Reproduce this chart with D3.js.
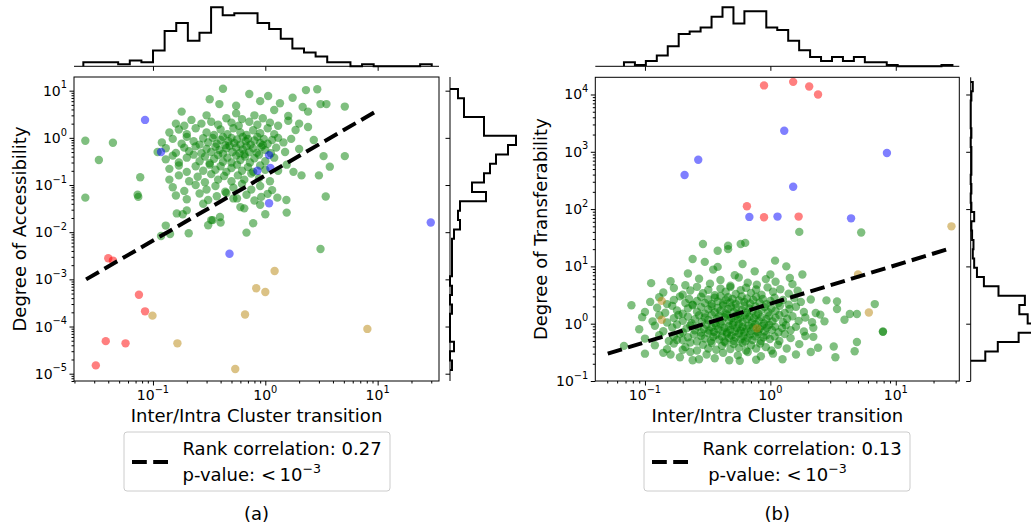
<!DOCTYPE html>
<html>
<head>
<meta charset="utf-8">
<script src="https://cdn.jsdelivr.net/npm/d3@7"></script>
<style>
  body { margin: 0; background: #fff; }
  text { font-family: "DejaVu Sans", sans-serif; fill: #000; }
</style>
</head>
<body>
<svg id="chart" width="1031" height="529"></svg>
<script>
// ---------------- panel (a): accessibility ----------------
var accGreen = [
  [0.025,0.87],[0.044,0.79],[0.033,0.34],[0.025,0.054],[0.077,0.146],[0.073,0.062],[0.074,0.056],
  [0.42,11],[0.32,6.6],[0.72,8.5],[1.06,7.7],[1.75,7.1],[2.3,10.3],[2.9,10.7],
  [0.39,5.2],[1.35,5.4],[3.1,5.2],[3.5,5.2],[2.15,4.5],[5.1,4.6],[0.55,4.8],[0.9,6.0],
  [0.18,3.6],[2.4,3.6],[0.8,3.0],[0.55,3.3],[1.2,3.9],[0.3,3.0],[1.6,2.9],
  [0.16,2.0],[0.19,1.8],[0.22,2.4],[0.27,2.0],[0.33,2.2],[0.38,1.9],[0.45,2.6],[0.5,2.1],[0.58,1.8],[0.62,2.5],
  [0.72,2.2],[0.85,1.9],[0.95,2.6],[1.1,2.1],[1.3,1.8],[1.6,2.3],[2.0,2.0],
  [0.14,1.3],[0.17,1.5],[0.2,1.2],[0.24,1.6],[0.3,1.3],[0.35,1.15],[0.4,1.5],[0.46,1.2],[0.52,1.6],[0.6,1.3],
  [0.68,1.15],[0.78,1.45],[0.9,1.25],[1.05,1.6],[1.2,1.2],[1.86,1.47],[2.4,1.7],
  [0.12,0.8],[0.15,0.95],[0.18,0.75],[0.2,1.05],[0.23,0.85],[0.26,0.72],[0.28,0.98],[0.31,0.8],[0.34,1.0],[0.37,0.75],
  [0.4,0.9],[0.42,1.05],[0.44,0.7],[0.47,0.85],[0.5,1.0],[0.53,0.78],[0.56,0.92],[0.6,0.72],[0.63,1.05],[0.67,0.85],
  [0.7,0.95],[0.74,0.72],[0.8,0.88],[0.85,1.05],[0.9,0.78],[0.97,0.95],[1.05,0.75],[1.15,0.9],[1.3,1.0],[1.45,0.8],
  [1.7,0.95],[2.7,0.9],[0.95,0.7],
  [0.11,0.5],[0.13,0.6],[0.16,0.48],[0.19,0.62],[0.21,0.52],[0.24,0.66],[0.27,0.47],[0.3,0.58],[0.33,0.5],[0.36,0.65],
  [0.39,0.55],[0.42,0.46],[0.45,0.6],[0.48,0.68],[0.51,0.5],[0.55,0.62],[0.59,0.47],[0.63,0.57],[0.68,0.66],[0.72,0.5],
  [0.78,0.6],[0.84,0.48],[0.92,0.64],[1.0,0.55],[1.12,0.47],[1.25,0.62],[1.5,0.5],[2.0,0.58],[0.65,0.45],
  [0.13,0.35],[0.15,0.42],[0.17,0.3],[0.2,0.38],[0.23,0.44],[0.26,0.32],[0.29,0.4],[0.32,0.29],[0.35,0.36],[0.38,0.43],
  [0.42,0.31],[0.46,0.38],[0.5,0.3],[0.55,0.42],[0.6,0.34],[0.66,0.4],[0.73,0.3],[0.8,0.37],[0.88,0.44],[1.0,0.32],
  [1.2,0.38],[3.3,0.41],[5.1,0.41],
  [0.14,0.22],[0.17,0.26],[0.2,0.19],[0.24,0.25],[0.28,0.2],[0.32,0.27],[0.36,0.21],[0.4,0.25],[0.45,0.19],[0.5,0.23],
  [0.56,0.27],[0.62,0.2],[0.7,0.24],[0.78,0.19],[0.9,0.26],[1.0,0.21],[1.3,0.2],[1.78,0.19],[3.75,0.245],[1.55,0.27],
  [0.14,0.13],[0.17,0.16],[0.21,0.12],[0.25,0.15],[0.29,0.115],[0.33,0.17],[0.38,0.13],[0.43,0.155],[0.5,0.12],[0.57,0.16],
  [0.65,0.13],[0.75,0.175],[0.88,0.14],[1.1,0.12],[2.1,0.16],[3.0,0.16],
  [0.15,0.09],[0.19,0.075],[0.24,0.1],[0.3,0.08],[0.36,0.095],[0.44,0.072],[0.52,0.088],[0.62,0.105],[0.75,0.08],[0.9,0.095],[1.15,0.078],
  [0.16,0.06],[0.2,0.05],[0.26,0.066],[0.31,0.048],[0.37,0.058],[0.45,0.068],[0.52,0.052],[0.56,0.052],[0.68,0.062],[0.8,0.047],
  [0.92,0.056],[1.28,0.054],[1.54,0.048],[3.45,0.057],[1.05,0.065],
  [0.6,0.034],[0.65,0.032],[0.2,0.029],[0.28,0.04],[0.9,0.038],
  [0.163,0.025],[0.184,0.024],[0.395,0.021],[1.55,0.026],[1.0,0.024],[0.33,0.018],
  [0.13,0.0138],[0.31,0.014],[0.40,0.016],[0.78,0.0155],[0.34,0.018],
  [0.118,0.0083],[0.142,0.0091],[0.208,0.0095],[0.68,0.0098],
  [3.1,0.0044]
];
var accRed = [[0.04,0.0028],[0.044,0.0025],[0.075,0.00047],[0.085,0.00021],[0.038,4.9e-5],[0.057,4.4e-5],[0.031,1.5e-5]];
var accBlue = [[0.085,2.4],[0.118,0.5],[0.48,0.0035],[1.08,0.43],[0.85,0.2],[1.11,0.23],[1.08,0.041],[29.7,0.016]];
var accTan = [[0.099,1.7e-4],[0.165,4.4e-5],[0.66,1.8e-4],[0.54,1.26e-5],[1.21,1.5e-3],[0.83,6.5e-4],[1.0,5.4e-4],[8.1,8.9e-5]];
var accFitX = [0.0254, 9.35], accFitY = [0.001, 3.48];
// marginal histograms, counts listed from low value to high value
var accTopRange = [0.024, 30.3];
var accTopCounts = [2,2,2,1,3,2,8,18,22,13,17,30,26,27,27,22,19,14,9,7,5,2,2,0,1,0,0,0,0,1];
var accSideRange = [1.2e-5, 10.9];
var accSideCounts = [1,0,2,0,0,0,1,0,1,0,1,1,1,1,2,5,4,5,18,11,17,20,23,29,33,17,17,7,7,4];
var accXTicks = [-1, 0, 1], accYTicks = [-5, -4, -3, -2, -1, 0, 1];
var accLegend = ["Rank correlation: 0.27", "p-value: "];

// ---------------- panel (b): transferability ----------------
var trfGreen = [
  [0.068,0.41],[0.078,2.1],[0.1,0.3],[0.112,5.1],[0.24,13.5],[0.29,24.6],[0.38,18.8],[0.46,23],[0.46,20],[0.58,24.6],
  [0.63,25.7],[0.38,9.8],[1.7,40],[5.3,39],[1.09,12.6],[0.24,0.23],[0.57,0.226],[0.77,0.235],[0.16,0.29],[0.18,0.52],[0.2,0.35],
  [1.34,10],[1.8,7.2],[1.43,6.3],[2.8,2.55],[3.4,2.45],[3.4,1.8],[4.3,1.48],[4.9,1.48],[3.9,1.17],[6.8,2.2],
  [7.9,0.73],[7.9,0.72],[4.9,0.48],[4.7,0.33],[3.2,0.4],[3.3,0.26],[2.2,0.59],[2.3,1.54],[2.5,1.44],[2.7,1.1],
  [0.14,0.31],[0.19,0.26],[0.23,0.32],[0.27,0.24],[0.31,0.29],[0.36,0.25],[0.42,0.31],[0.47,0.23],[0.55,0.28],[0.66,0.32],
  [0.84,0.27],[1.05,0.3],[1.25,0.24],[1.6,0.29],[2.1,0.32],
  [0.12,0.42],[0.15,0.36],[0.17,0.45],[0.21,0.39],[0.23,0.47],[0.26,0.34],[0.29,0.43],[0.32,0.37],[0.34,0.46],[0.37,0.35],
  [0.41,0.41],[0.44,0.47],[0.48,0.36],[0.51,0.44],[0.56,0.38],[0.6,0.46],[0.64,0.34],[0.7,0.42],[0.77,0.37],[0.83,0.45],
  [0.92,0.39],[1.02,0.34],[1.15,0.43],[1.35,0.37],[1.7,0.44],[2.4,0.38],
  [0.1,0.55],[0.13,0.63],[0.155,0.5],[0.17,0.6],[0.19,0.67],[0.2,0.52],[0.22,0.58],[0.245,0.65],[0.26,0.49],[0.28,0.61],
  [0.3,0.55],[0.32,0.68],[0.335,0.5],[0.35,0.59],[0.37,0.64],[0.39,0.53],[0.41,0.6],[0.43,0.49],[0.45,0.66],[0.47,0.56],
  [0.49,0.62],[0.51,0.5],[0.53,0.58],[0.56,0.68],[0.58,0.53],[0.61,0.61],[0.63,0.49],[0.66,0.57],[0.69,0.65],[0.72,0.52],
  [0.76,0.6],[0.8,0.67],[0.84,0.5],[0.88,0.58],[0.93,0.63],[0.99,0.54],[1.08,0.6],[1.18,0.5],[1.3,0.66],[1.45,0.56],[1.9,0.61],
  [0.09,0.8],[0.12,0.92],[0.14,0.74],[0.165,0.86],[0.18,0.97],[0.2,0.71],[0.215,0.83],[0.23,0.93],[0.25,0.77],[0.265,0.89],
  [0.28,0.7],[0.295,0.81],[0.31,0.96],[0.325,0.76],[0.34,0.87],[0.355,0.72],[0.37,0.92],[0.385,0.8],[0.4,0.99],[0.415,0.74],
  [0.43,0.85],[0.45,0.7],[0.465,0.9],[0.48,0.78],[0.5,0.95],[0.52,0.73],[0.54,0.84],[0.56,0.97],[0.58,0.76],[0.6,0.88],
  [0.62,0.71],[0.645,0.82],[0.67,0.93],[0.7,0.75],[0.73,0.87],[0.76,0.98],[0.79,0.72],[0.82,0.81],[0.86,0.91],[0.9,0.74],
  [0.94,0.86],[0.98,0.96],[1.03,0.78],[1.09,0.89],[1.16,0.71],[1.24,0.84],[1.33,0.94],[1.45,0.77],[1.6,0.88],[1.85,0.73],[2.2,0.85],
  [0.095,1.3],[0.115,1.1],[0.13,1.4],[0.15,1.05],[0.17,1.25],[0.185,1.42],[0.2,1.12],[0.22,1.33],[0.235,1.02],[0.25,1.2],
  [0.27,1.4],[0.285,1.08],[0.3,1.28],[0.32,1.16],[0.34,1.44],[0.36,1.03],[0.375,1.22],[0.39,1.36],[0.41,1.1],[0.43,1.3],
  [0.45,1.45],[0.47,1.14],[0.49,1.26],[0.51,1.05],[0.53,1.38],[0.55,1.18],[0.575,1.3],[0.6,1.07],[0.625,1.42],[0.65,1.2],
  [0.68,1.32],[0.71,1.04],[0.74,1.24],[0.77,1.4],[0.81,1.12],[0.85,1.3],[0.89,1.01],[0.93,1.2],[0.98,1.38],[1.04,1.1],
  [1.1,1.27],[1.18,1.42],[1.26,1.06],[1.36,1.22],[1.5,1.35],[1.68,1.12],[1.9,1.28],[2.15,1.06],
  [0.1,1.6],[0.125,1.9],[0.145,1.55],[0.165,2.05],[0.18,1.7],[0.2,1.5],[0.22,1.85],[0.24,2.1],[0.26,1.62],[0.28,1.95],
  [0.3,1.5],[0.32,1.78],[0.34,2.0],[0.36,1.58],[0.38,1.88],[0.4,1.68],[0.42,2.08],[0.44,1.52],[0.46,1.8],[0.485,1.98],
  [0.51,1.6],[0.535,1.9],[0.56,1.48],[0.59,1.74],[0.62,2.04],[0.65,1.56],[0.68,1.84],[0.72,1.66],[0.76,2.0],[0.8,1.5],
  [0.85,1.76],[0.9,1.95],[0.96,1.58],[1.02,1.86],[1.1,1.68],[1.19,2.05],[1.3,1.54],[1.42,1.8],[1.6,1.98],[1.85,1.6],
  [0.11,2.4],[0.13,2.9],[0.15,2.2],[0.17,2.6],[0.19,3.0],[0.21,2.3],[0.225,2.7],[0.24,2.15],[0.26,2.5],[0.28,2.95],
  [0.3,2.3],[0.32,2.65],[0.34,2.2],[0.36,2.85],[0.38,2.45],[0.4,3.05],[0.42,2.25],[0.44,2.6],[0.46,2.9],[0.48,2.35],
  [0.5,2.7],[0.53,2.2],[0.56,2.55],[0.59,3.0],[0.62,2.4],[0.65,2.75],[0.69,2.25],[0.73,2.6],[0.77,2.95],[0.82,2.35],
  [0.87,2.7],[0.93,2.2],[1.0,2.5],[1.08,2.85],[1.16,2.3],[1.26,2.6],[1.4,2.15],[1.55,2.8],[1.75,2.4],[2.1,2.65],
  [0.14,3.5],[0.17,4.2],[0.2,3.2],[0.23,3.8],[0.26,4.4],[0.29,3.4],[0.32,3.9],[0.36,3.15],[0.4,4.1],[0.44,3.6],
  [0.48,4.35],[0.53,3.3],[0.58,3.85],[0.64,4.25],[0.7,3.45],[0.77,3.95],[0.85,3.2],[0.95,4.3],[1.05,3.6],[1.2,4.0],[1.4,3.35],[1.65,3.75],
  [0.16,5.5],[0.21,4.7],[0.27,6.1],[0.33,5.0],[0.4,5.8],[0.48,4.6],[0.56,6.4],[0.66,5.2],[0.78,4.8],[0.92,6.0],[1.1,5.4],[1.5,4.9],
  [0.22,7.5],[0.35,8.8],[0.52,7.0],[0.75,8.2],[1.0,7.2],
  [0.3,12],[0.6,11]
];
var trfRed = [[0.89,14400],[1.52,16600],[2.04,13800],[2.4,10000],[0.65,112],[0.89,72],[1.68,74]];
var trfBlue = [[0.207,394],[0.266,725],[0.68,73],[1.29,2330],[8.5,950],[1.52,245],[1.14,74],[4.4,69]];
var trfTan = [[0.136,2.5],[0.136,1.17],[0.78,0.83],[5.0,7.2],[6.1,1.57],[27.8,50]];
var trfFitX = [0.0505, 27], trfFitY = [0.3, 20.5];
var trfTopRange = [0.068, 28.3];
var trfTopCounts = [3,1,4,8,15,24,26,29,37,44,32,41,41,29,27,19,12,7,4,7,4,7,3,3,1,0,0,0,0,1];
var trfSideRange = [0.226, 16600];
var trfSideCounts = [21,39,69,95,82,70,78,40,19,9,5,3,4,2,1,5,1,0,1,0,1,1,1,0,1,0,0,0,1,3];
var trfXTicks = [-1, 0, 1], trfYTicks = [-1, 0, 1, 2, 3, 4];
var trfLegend = ["Rank correlation: 0.13", "p-value: "];

// ---------------- layout ----------------
var panels = [
  {id: "a", left: 74, right: 439, top: 77, bottom: 381, xDom: [0.01982, 35.16], yDom: [7.0e-6, 19.5],
   green: accGreen, red: accRed, blue: accBlue, tan: accTan, fitX: accFitX, fitY: accFitY,
   topRange: accTopRange, topCounts: accTopCounts, sideRange: accSideRange, sideCounts: accSideCounts,
   xTicks: accXTicks, yTicks: accYTicks, sideX: [450, 516], yLabel: "Degree of Accessibility", yLabelX: 26,
   legend: accLegend, legendX: 124, pIndent: 0, caption: "(a)"},
  {id: "b", left: 595.3, right: 959.3, top: 77.3, bottom: 381, xDom: [0.04018, 32.1], yDom: [0.1, 19950],
   green: trfGreen, red: trfRed, blue: trfBlue, tan: trfTan, fitX: trfFitX, fitY: trfFitY,
   topRange: trfTopRange, topCounts: trfTopCounts, sideRange: trfSideRange, sideCounts: trfSideCounts,
   xTicks: trfXTicks, yTicks: trfYTicks, sideX: [970.7, 1036.7], yLabel: "Degree of Transferability", yLabelX: 546.5,
   legend: trfLegend, legendX: 644, pIndent: 5.7, caption: "(b)"}
];

var svg = d3.select("#chart");
var histBase = 66.3, histTop = 7.3;

function minorTicks(dom) {
  var out = [];
  var e0 = Math.floor(Math.log10(dom[0])), e1 = Math.ceil(Math.log10(dom[1]));
  for (var e = e0; e <= e1; e++) {
    for (var k = 2; k <= 9; k++) {
      var v = k * Math.pow(10, e);
      if (v >= dom[0] && v <= dom[1]) out.push(v);
    }
  }
  return out;
}

function supText(sel, exp, size, supSize, raise) {
  sel.append("tspan").attr("font-size", size).text("10");
  sel.append("tspan").attr("font-size", supSize).attr("dy", -raise)
    .text(exp < 0 ? "\u2212" + (-exp) : String(exp));
}

// histogram outline (matplotlib 'step' style), bins evenly spaced in log
function histPoints(counts, range) {
  var n = counts.length,
      l0 = Math.log10(range[0]), l1 = Math.log10(range[1]);
  var edges = d3.range(n + 1).map(function (i) { return Math.pow(10, l0 + (l1 - l0) * i / n); });
  var pts = [[edges[0], 0]];
  counts.forEach(function (c, i) {
    pts.push([edges[i], c]);
    pts.push([edges[i + 1], c]);
  });
  pts.push([edges[n], 0]);
  return pts;
}

function cleanAxis(g) {
  g.select(".domain").remove();
  g.selectAll(".tick line").attr("stroke", "#000").attr("stroke-width", 1);
}

panels.forEach(function (p) {
  var g = svg.append("g").attr("class", "panel-" + p.id);
  var x = d3.scaleLog().domain(p.xDom).range([p.left, p.right]),
      y = d3.scaleLog().domain(p.yDom).range([p.bottom, p.top]);
  var xMajor = p.xTicks.map(function (e) { return Math.pow(10, e); }),
      yMajor = p.yTicks.map(function (e) { return Math.pow(10, e); });

  // ---- scatter, clipped to the axes box
  svg.append("clipPath").attr("id", "clip-" + p.id)
    .append("rect").attr("x", p.left).attr("y", p.top)
    .attr("width", p.right - p.left).attr("height", p.bottom - p.top);
  var plot = g.append("g").attr("clip-path", "url(#clip-" + p.id + ")");

  [[p.green, "#008000"], [p.red, "#ff0000"], [p.blue, "#0000ff"], [p.tan, "#b8860b"]].forEach(function (s) {
    plot.append("g").selectAll("circle")
      .data(s[0])
      .enter().append("circle")
      .attr("cx", function (d) { return x(d[0]); })
      .attr("cy", function (d) { return y(d[1]); })
      .attr("r", 4.2)
      .attr("fill", s[1])
      .attr("fill-opacity", 0.5);
  });

  // regression line
  plot.append("path")
    .datum(d3.zip(p.fitX, p.fitY))
    .attr("d", d3.line().x(function (d) { return x(d[0]); }).y(function (d) { return y(d[1]); }))
    .attr("fill", "none").attr("stroke", "#000").attr("stroke-width", 4)
    .attr("stroke-dasharray", "14.8,6.4");

  // frame
  g.append("rect")
    .attr("x", p.left).attr("y", p.top)
    .attr("width", p.right - p.left).attr("height", p.bottom - p.top)
    .attr("fill", "none").attr("stroke", "#000").attr("stroke-width", 1);

  // ---- main axes ticks
  g.append("g").attr("transform", "translate(0," + p.bottom + ")")
    .call(d3.axisBottom(x).tickValues(minorTicks(p.xDom)).tickSize(2.5).tickSizeOuter(0).tickFormat(""))
    .call(cleanAxis);
  g.append("g").attr("transform", "translate(0," + p.bottom + ")")
    .call(d3.axisBottom(x).tickValues(xMajor).tickSize(4.5).tickSizeOuter(0).tickFormat(""))
    .call(cleanAxis);
  g.append("g").attr("transform", "translate(" + p.left + ",0)")
    .call(d3.axisLeft(y).tickValues(minorTicks(p.yDom)).tickSize(2.5).tickSizeOuter(0).tickFormat(""))
    .call(cleanAxis);
  g.append("g").attr("transform", "translate(" + p.left + ",0)")
    .call(d3.axisLeft(y).tickValues(yMajor).tickSize(4.5).tickSizeOuter(0).tickFormat(""))
    .call(cleanAxis);

  // tick labels
  p.xTicks.forEach(function (e) {
    var t = g.append("text").attr("x", x(Math.pow(10, e))).attr("y", 400).attr("text-anchor", "middle");
    supText(t, e, 14, 9.8, 7.3);
  });
  p.yTicks.forEach(function (e) {
    var t = g.append("text").attr("x", p.left - 7).attr("y", y(Math.pow(10, e)) + 5).attr("text-anchor", "end");
    supText(t, e, 14, 9.8, 7.3);
  });

  // axis labels
  g.append("text")
    .attr("x", (p.left + p.right) / 2).attr("y", 422)
    .attr("text-anchor", "middle").attr("font-size", 18)
    .text("Inter/Intra Cluster transition");
  g.append("text")
    .attr("transform", "translate(" + p.yLabelX + "," + ((p.top + p.bottom) / 2) + ") rotate(-90)")
    .attr("text-anchor", "middle").attr("font-size", 18)
    .text(p.yLabel);

  // ---- top marginal histogram
  var hTop = d3.scaleLinear().domain([0, d3.max(p.topCounts)]).range([histBase, histTop]);
  g.append("line")
    .attr("x1", p.left).attr("x2", p.right).attr("y1", histBase).attr("y2", histBase)
    .attr("stroke", "#000").attr("stroke-width", 1);
  g.append("g").attr("transform", "translate(0," + histBase + ")")
    .call(d3.axisBottom(x).tickValues(xMajor).tickSize(4.5).tickSizeOuter(0).tickFormat(""))
    .call(cleanAxis);
  g.append("path")
    .datum(histPoints(p.topCounts, p.topRange))
    .attr("d", d3.line().x(function (d) { return x(d[0]); }).y(function (d) { return hTop(d[1]); }))
    .attr("fill", "none").attr("stroke", "#000").attr("stroke-width", 2);

  // ---- right marginal histogram
  var hSide = d3.scaleLinear().domain([0, d3.max(p.sideCounts)]).range(p.sideX);
  g.append("line")
    .attr("x1", p.sideX[0]).attr("x2", p.sideX[0]).attr("y1", p.top).attr("y2", p.bottom)
    .attr("stroke", "#000").attr("stroke-width", 1);
  g.append("g").attr("transform", "translate(" + p.sideX[0] + ",0)")
    .call(d3.axisLeft(y).tickValues(yMajor).tickSize(4.5).tickSizeOuter(0).tickFormat(""))
    .call(cleanAxis);
  g.append("path")
    .datum(histPoints(p.sideCounts, p.sideRange))
    .attr("d", d3.line().x(function (d) { return hSide(d[1]); }).y(function (d) { return y(d[0]); }))
    .attr("fill", "none").attr("stroke", "#000").attr("stroke-width", 2);

  // ---- legend
  var lx = p.legendX, ly = 432;
  var leg = g.append("g");
  leg.append("rect")
    .attr("x", lx).attr("y", ly).attr("width", 266).attr("height", 59).attr("rx", 3)
    .attr("fill", "#fff").attr("stroke", "#cccccc").attr("stroke-width", 1);
  leg.append("line")
    .attr("x1", lx + 8).attr("x2", lx + 44).attr("y1", ly + 30).attr("y2", ly + 30)
    .attr("stroke", "#000").attr("stroke-width", 4).attr("stroke-dasharray", "14.8,6.4");
  leg.append("text").attr("x", lx + 58.5).attr("y", ly + 23).attr("font-size", 18).text(p.legend[0]);
  var pv = leg.append("text").attr("x", lx + 58.5 + p.pIndent).attr("y", ly + 49).attr("font-size", 18);
  pv.append("tspan").text(p.legend[1] + "<\u2009");
  pv.append("tspan").text("10");
  pv.append("tspan").attr("font-size", 12.6).attr("dy", -8).text("\u22123");

  // caption
  g.append("text")
    .attr("x", (p.left + p.right) / 2).attr("y", 520)
    .attr("text-anchor", "middle").attr("font-size", 18)
    .text(p.caption);
});
</script>
</body>
</html>
